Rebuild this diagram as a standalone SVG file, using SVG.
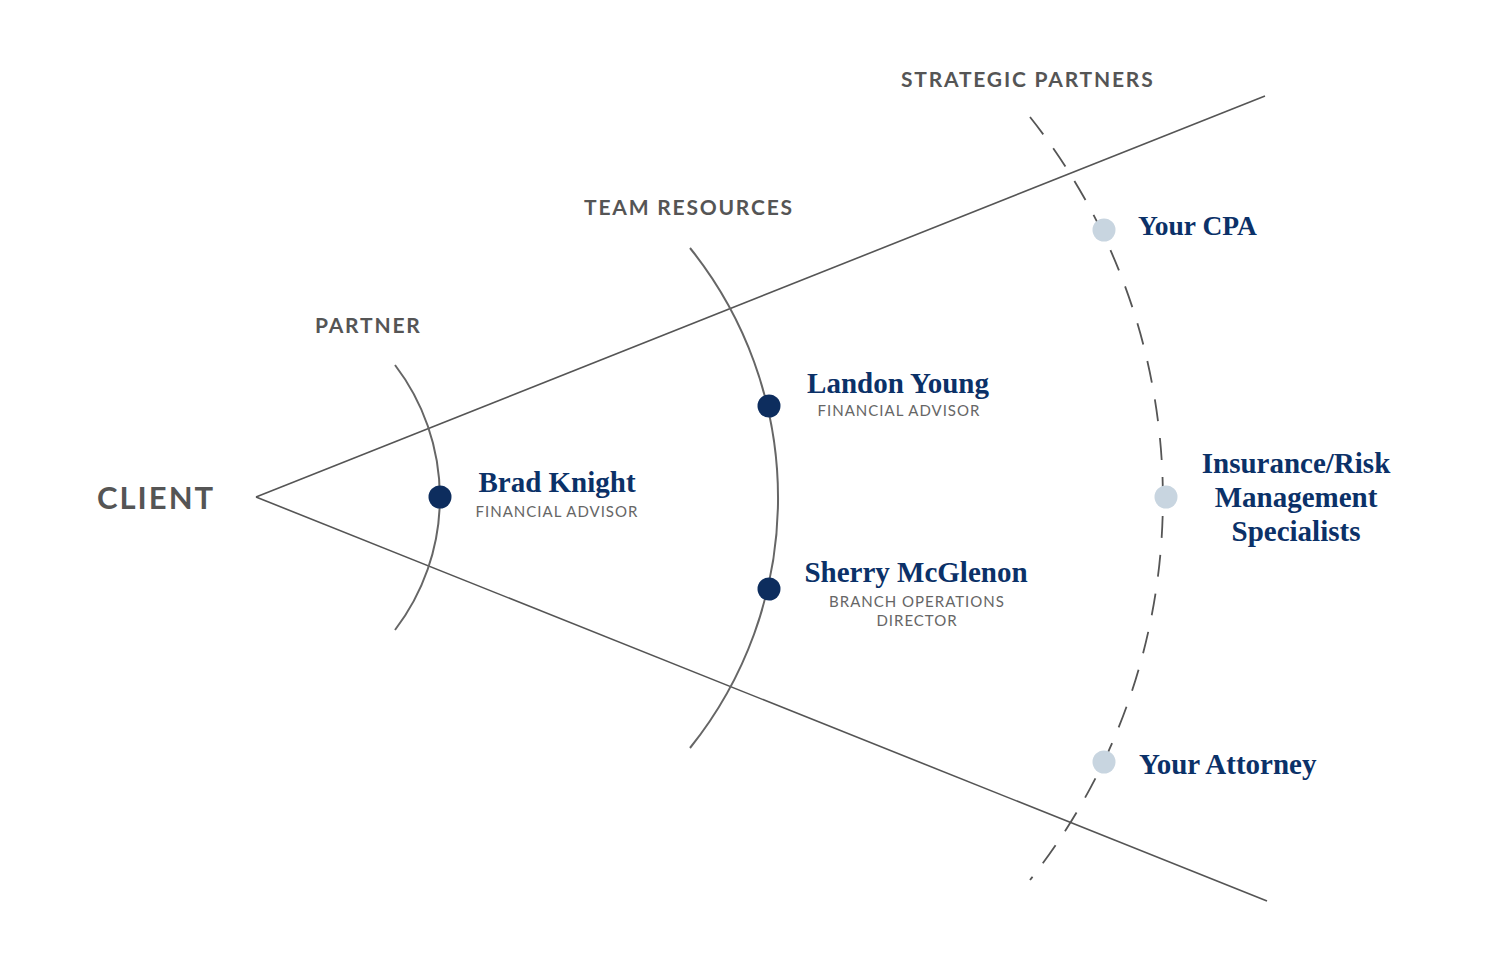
<svg xmlns="http://www.w3.org/2000/svg" width="1500" height="967" viewBox="0 0 1500 967">
<style>
.line{stroke:#555;stroke-width:1.6;fill:none}
.arc{stroke:#666;stroke-width:2;fill:none}
.dash{stroke:#555;stroke-width:1.8;fill:none;stroke-dasharray:22 17}
.hdr{font-family:Lato,"Liberation Sans",sans-serif;font-weight:700;fill:#555;letter-spacing:1.8px}
.name{font-family:"Liberation Serif",serif;font-weight:700;fill:#0b3168;font-size:29px}
.role{font-family:Lato,"Liberation Sans",sans-serif;font-weight:400;fill:#666;font-size:15px;letter-spacing:1px}
.dk{fill:#0d2d5e}
.lt{fill:#c8d5e0}
</style>
<rect width="1500" height="967" fill="#fff"/>
<g id="connectors">
<line class="line" x1="256" y1="497" x2="1265" y2="96"/>
<line class="line" x1="256" y1="497" x2="1267" y2="901"/>
<path class="arc" d="M395,365 A218,218 0 0 1 395,630"/>
<path class="arc" d="M690,248 A399,399 0 0 1 690,748"/>
<path class="dash" d="M1030,117 A614,614 0 0 1 1030,880"/>
</g>
<g id="labels">
<text class="hdr" x="97" y="509" style="font-size:31px;letter-spacing:2px">CLIENT</text>
<text class="hdr" x="315" y="333" font-size="21">PARTNER</text>
<text class="hdr" x="584" y="215" font-size="21">TEAM RESOURCES</text>
<text class="hdr" x="901" y="87" font-size="21">STRATEGIC PARTNERS</text>
</g>
<g id="brad">
<circle class="dk" cx="440" cy="497" r="11.5"/>
<text class="name" x="557" y="492" text-anchor="middle">Brad Knight</text>
<text class="role" x="557" y="517" text-anchor="middle">FINANCIAL ADVISOR</text>
</g>
<g id="landon">
<circle class="dk" cx="769" cy="406" r="11.5"/>
<text class="name" x="898" y="393" text-anchor="middle">Landon Young</text>
<text class="role" x="899" y="416" text-anchor="middle">FINANCIAL ADVISOR</text>
</g>
<g id="sherry">
<circle class="dk" cx="769" cy="589" r="11.5"/>
<text class="name" x="916" y="582" text-anchor="middle">Sherry McGlenon</text>
<text class="role" x="917" y="607" text-anchor="middle">BRANCH OPERATIONS</text>
<text class="role" x="917" y="626" text-anchor="middle">DIRECTOR</text>
</g>
<g id="cpa">
<circle class="lt" cx="1104" cy="230" r="11.5"/>
<text class="name" x="1138" y="235" style="font-size:27.5px">Your CPA</text>
</g>
<g id="insurance">
<circle class="lt" cx="1166" cy="497" r="11.5"/>
<text class="name" x="1296" y="473" text-anchor="middle">Insurance/Risk</text>
<text class="name" x="1296" y="507" text-anchor="middle">Management</text>
<text class="name" x="1296" y="541" text-anchor="middle">Specialists</text>
</g>
<g id="attorney">
<circle class="lt" cx="1104" cy="762" r="11.5"/>
<text class="name" x="1139" y="774">Your Attorney</text>
</g>
</svg>
